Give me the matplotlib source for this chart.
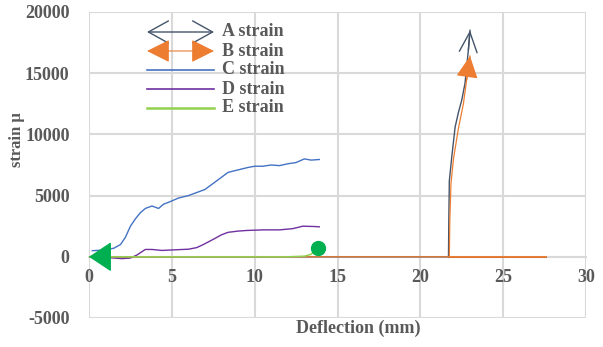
import matplotlib
matplotlib.use('Agg')
import matplotlib.pyplot as plt

# data (deflection mm, strain micro)
a_x = [0, 5, 10, 15, 20, 27.6, 21.7, 21.72, 21.75, 21.9, 22.1, 22.3, 22.5, 22.7, 22.9, 23.0]
a_y = [0, 0, 0, 0, 0, 0, 0, 3000, 6200, 8200, 10600, 11800, 12800, 14200, 16900, 18500]
b_x = [0, 5, 10, 15, 20, 27.6, 21.75, 21.78, 21.85, 22.0, 22.3, 22.6, 22.8, 23.0]
b_y = [0, 0, 0, 0, 0, 0, 0, 3000, 6000, 8000, 10500, 12500, 14500, 16400]
c_x = [0.2, 0.9, 1.5, 1.9, 2.2, 2.5, 2.8, 3.1, 3.4, 3.8, 4.2, 4.5, 4.8, 5.4, 6.0, 6.4, 7.0,
       7.5, 7.8, 8.4, 9.0, 9.6, 10.0, 10.5, 11.0, 11.5, 12.0, 12.5, 13.0, 13.4, 13.9]
c_y = [500, 550, 700, 1000, 1600, 2500, 3100, 3600, 3950, 4150, 3950, 4300, 4450, 4800, 5000, 5200, 5500,
       6000, 6300, 6900, 7100, 7300, 7400, 7400, 7500, 7450, 7600, 7700, 8000, 7900, 7950]
d_x = [0.3, 1.0, 1.5, 2.0, 2.5, 2.9, 3.4, 3.8, 4.4, 5.0, 6.0, 6.5, 6.9, 7.6, 8.0, 8.4, 9.0, 9.5,
       10.5, 11.5, 12.3, 12.9, 13.5, 13.9]
d_y = [0, -50, -100, -150, -100, 150, 600, 600, 520, 560, 620, 750, 1000, 1500, 1800, 2000, 2100, 2150,
       2200, 2200, 2300, 2500, 2480, 2450]
e_x = [0, 3, 6, 9, 12, 13.0, 13.4, 13.8]
e_y = [0, 0, 0, 0, 0, 50, 200, 700]

names = ['A strain', 'B strain', 'C strain', 'D strain', 'E strain']
colors = ['#44546A', '#ED7D31', '#4472C4', '#7030A0', '#92D050']
gray = '#595959'

plt.rcParams['font.family'] = ['Liberation Serif', 'DejaVu Serif']
plt.rcParams['font.weight'] = 'bold'
plt.rcParams['axes.unicode_minus'] = False

fig = plt.figure(figsize=(6.03, 3.47), dpi=100)
W, H = 603, 347
ax = fig.add_axes([89 / W, 1 - 318 / H, 497 / W, 306 / H])

ax.plot(a_x, a_y, color=colors[0], lw=1.0, zorder=3)
ax.plot(b_x, b_y, color=colors[1], lw=0.9, zorder=4)
ax.plot(c_x, c_y, color=colors[2], lw=1.0, zorder=3)
ax.plot(d_x, d_y, color=colors[3], lw=1.0, zorder=3)
ax.plot(e_x, e_y, color=colors[4], lw=1.1, zorder=5)

# arrow heads at series ends
def head(ax, p0, p1, style, color, fc, scale):
    ax.annotate('', xy=p1, xytext=p0,
                arrowprops=dict(arrowstyle=style, color=color, fc=fc, lw=1.0,
                                shrinkA=0, shrinkB=0, mutation_scale=scale), zorder=6)

head(ax, (a_x[-2], a_y[-2]), (a_x[-1], a_y[-1]), '->,head_length=0.9,head_width=0.4', colors[0], 'none', 16)
head(ax, (b_x[-2], b_y[-2]), (b_x[-1], b_y[-1]), '-|>,head_length=0.9,head_width=0.45', colors[1], colors[1], 15)
head(ax, (1.0, 0), (0, 0), '-|>,head_length=0.9,head_width=0.45', colors[1], colors[1], 14)
head(ax, (1.0, 0), (0, 0), '-|>,head_length=0.9,head_width=0.6', '#00B050', '#00B050', 16)
ax.plot([e_x[-1]], [e_y[-1]], 'o', color='#00B050', ms=10, zorder=6, clip_on=False)

ax.set_xlim(0, 30)
ax.set_ylim(-5000, 20000)
ax.set_xticks(range(0, 31, 5))
ax.set_yticks(range(-5000, 20001, 5000))
ax.grid(True, color='#D9D9D9', lw=1.5)
ax.set_axisbelow(True)
for s in ['top', 'right', 'left']:
    ax.spines[s].set_visible(False)
ax.spines['bottom'].set_position(('data', 0))
ax.spines['bottom'].set_color('#D9D9D9')
ax.spines['bottom'].set_linewidth(1.5)
ax.tick_params(length=0, labelsize=13, labelcolor=gray)
ax.tick_params(axis='x', pad=9)
ax.tick_params(axis='y', pad=14)

fig.text(17 / W, 1 - 140 / H, 'strain μ', rotation=90, ha='center', va='center',
         fontsize=12, color=gray, fontweight='bold')
fig.text(358 / W, 1 - 328 / H, 'Deflection (mm)', ha='center', va='center',
         fontsize=13, color=gray, fontweight='bold')

# hand-drawn legend
rows = [32, 51, 70, 89, 108]
x0, x1, xt = 147, 214, 222
def fp(x, y):
    return (x / W, 1 - y / H)

ax.annotate('', xy=fp(x1, rows[0]), xytext=fp(x0, rows[0]), xycoords='figure fraction',
            textcoords='figure fraction',
            arrowprops=dict(arrowstyle='<->,head_length=0.9,head_width=0.5', color=colors[0], lw=1.0,
                            shrinkA=0, shrinkB=0, mutation_scale=16))
ax.annotate('', xy=fp(x1, rows[1]), xytext=fp(x0, rows[1]), xycoords='figure fraction',
            textcoords='figure fraction',
            arrowprops=dict(arrowstyle='<|-|>,head_length=0.9,head_width=0.45', color=colors[1],
                            fc=colors[1], lw=0.8, shrinkA=0, shrinkB=0, mutation_scale=16))
for i in range(2, 5):
    fig.lines.append(plt.Line2D([x0 / W, x1 / W], [1 - rows[i] / H] * 2, color=colors[i],
                                lw=1.2 if i < 4 else 1.8, transform=fig.transFigure))
for i, n in enumerate(names):
    fig.text(xt / W, 1 - rows[i] / H, n, ha='left', va='center', fontsize=13, color=gray,
             fontweight='bold')

fig.savefig('out.png', dpi=100)
